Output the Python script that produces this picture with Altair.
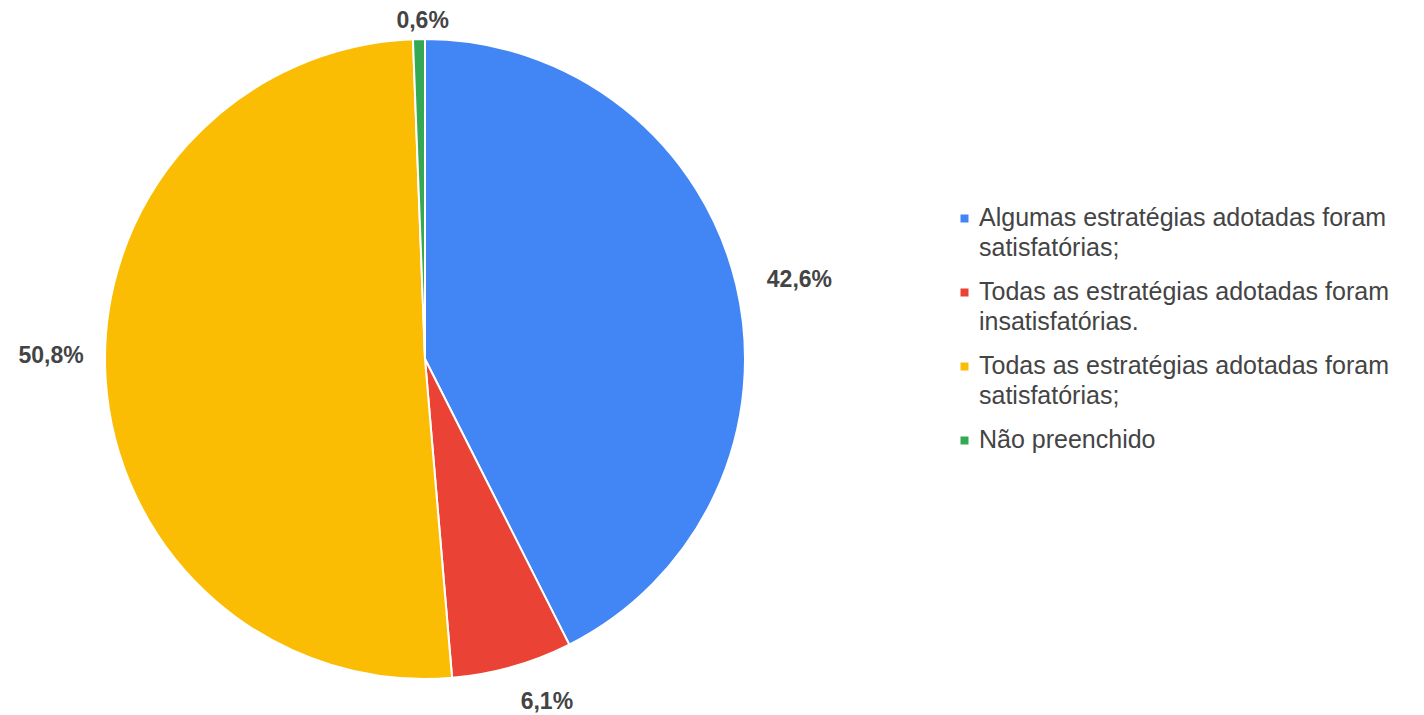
import altair as alt
import pandas as pd

categories = [
    "Algumas estratégias adotadas foram satisfatórias;",
    "Todas as estratégias adotadas foram insatisfatórias.",
    "Todas as estratégias adotadas foram satisfatórias;",
    "Não preenchido",
]
values = [42.6, 6.1, 50.8, 0.6]
labels = ["42,6%", "6,1%", "50,8%", "0,6%"]
colors = ["#4285F4", "#EA4335", "#FBBC04", "#34A853"]
order = [0, 1, 2, 3]

df = pd.DataFrame({"cat": categories, "value": values, "label": labels, "idx": order})

base = alt.Chart(df).encode(
    theta=alt.Theta("value:Q", stack=True),
    order=alt.Order("idx:Q"),
)

arcs = base.mark_arc(outerRadius=320, stroke="white", strokeWidth=2).encode(
    color=alt.Color(
        "cat:N",
        scale=alt.Scale(domain=categories, range=colors),
        legend=alt.Legend(
            title=None,
            orient="none",
            legendX=944,
            legendY=198,
            symbolType="square",
            symbolSize=64,
            symbolStrokeWidth=0,
            labelFont="Liberation Sans",
            labelFontSize=25,
            labelColor="#444444",
            labelLimit=0,
            labelBaseline="top",
            rowPadding=18,
            labelOffset=2,
            labelExpr="split(replace(datum.label, 'foram ', 'foram|'), '|')",
        ),
    )
)

texts = (
    base.transform_joinaggregate(total="sum(value)")
    .transform_window(cum="sum(value)", sort=[alt.SortField("idx")], frame=[None, 0])
    .transform_calculate(
        s="sin((datum.cum - datum.value/2)/datum.total*2*PI)",
        c="cos((datum.cum - datum.value/2)/datum.total*2*PI)",
    )
    .mark_text(
        radius=337,
        font="Liberation Sans",
        fontSize=23,
        fontWeight="bold",
        color="#444444",
        baseline="middle",
        align=alt.expr("datum.s > 0.3 ? 'left' : (datum.s < -0.3 ? 'right' : 'center')"),
        dx=alt.expr("datum.s > 0.3 ? 14 : (datum.s < -0.3 ? -5 : (datum.c < 0 ? 30 : 4))"),
        dy=alt.expr("datum.s < -0.3 ? -24 : (datum.c < -0.5 ? 19 : -1)"),
    )
    .encode(text="label:N")
)

chart = (
    alt.layer(arcs, texts)
    .properties(width=834, height=702, padding=0)
    .configure_view(stroke=None)
    .configure(style={"guide-label": {"lineHeight": 30, "dy": -13}})
)

chart.save("out.html", embed_options={"renderer": "svg", "actions": False})
